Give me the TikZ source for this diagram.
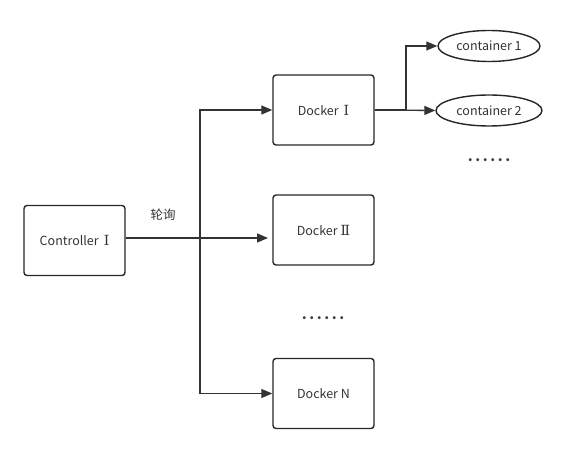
\documentclass[tikz,border=0pt]{standalone}
\usepackage{fontspec}
\setmainfont{Noto Sans CJK SC}
\newfontfamily\romfont{DejaVu Serif}
\usetikzlibrary{arrows.meta,shapes.geometric}
\newcommand{\rmI}{\hspace{5pt}{\romfont\fontsize{14}{14}\selectfont Ⅰ}}
\newcommand{\rmII}{\hspace{3pt}{\romfont\fontsize{14}{14}\selectfont Ⅱ}}
\newcommand{\mydots}{{\fontsize{14}{16}\selectfont\bfseries .\kern2.6pt.\kern2.6pt.\kern2.6pt.\kern2.6pt.\kern2.6pt.}}
\begin{document}
\begin{tikzpicture}[x=1pt,y=-1pt,
  box/.style={draw=black!85,line width=1.4pt,rounded corners=3pt,minimum width=101pt,minimum height=70pt,inner sep=0pt,font=\fontsize{12.5}{14}\selectfont,text=black!80},
  ell/.style={draw=black!85,line width=1.4pt,ellipse,inner sep=0pt,font=\fontsize{12.5}{14}\selectfont,text=black!80},
  con/.style={draw=black!80,line width=1.3pt,-{Triangle[length=11pt,width=9pt]}},
  lbl/.style={font=\fontsize{12.5}{14}\selectfont,text=black!80}]
\useasboundingbox (0,0) rectangle (573,454);
\node[box] (ctrl) at (74.5,240.5) {Controller\rmI};
\node[box] (d1) at (323.5,110) {Docker\rmI};
\node[box] (d2) at (323.5,230) {Docker\rmII};
\node[box] (dn) at (323.5,393.5) {Docker N};
\node[ell,minimum width=102pt,minimum height=31pt] (c1) at (489,46) {container 1};
\node[ell,minimum width=106pt,minimum height=31pt] (c2) at (489,110.5) {container 2};
\coordinate (j) at (200,238);
\coordinate (k) at (406,110);
\draw[con] (ctrl.east |- j) -- (268,238);
\draw[con] (ctrl.east |- j) -- (j) |- (d1.west);
\draw[con] (ctrl.east |- j) -- (j) |- (dn.west);
\draw[con] (d1.east) -- (c2.west);
\draw[con] (d1.east) -- (k) |- (c1.west);
\node[lbl] (poll) at (163,215) {轮询};
\node[text=black!75] (dots1) at (489,160) {\mydots};
\node[text=black!75] (dots2) at (323,318) {\mydots};
\end{tikzpicture}
\end{document}
